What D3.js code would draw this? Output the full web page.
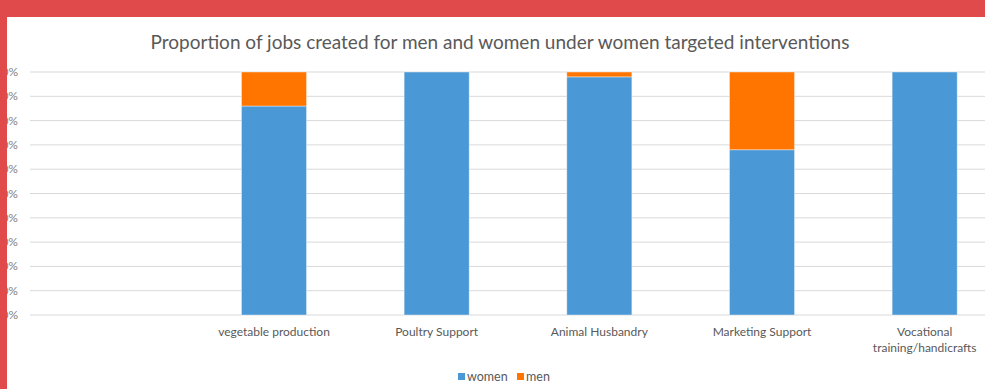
<!DOCTYPE html>
<html><head><meta charset="utf-8">
<script src="https://cdn.jsdelivr.net/npm/d3@7"></script>
<style>body{margin:0;background:#fff;overflow:hidden}svg{display:block}</style>
</head><body>
<svg id="c" width="985" height="389"></svg>
<script>
const categories = ["", "vegetable production", "Poultry Support", "Animal Husbandry", "Marketing Support", "Vocational training/handicrafts"];
const women = [null, 86, 100, 98, 68, 100];
const men = [null, 14, 0, 2, 32, 0];
const yTicks = [0,10,20,30,40,50,60,70,80,90,100];
const seriesNames = ["women","men"];
const colors = {women:"#4A98D6", men:"#FF7500"};

const svg = d3.select("#c");
const font = "Lato, 'Open Sans', sans-serif";
const x = d3.scaleBand().domain(categories).range([30, 1006]).paddingInner(0.6).paddingOuter(0.3);
const y = d3.scaleLinear().domain([0,100]).range([315, 72]);

svg.append("rect").attr("width",985).attr("height",389).attr("fill","#fff");

// gridlines
svg.append("g").selectAll("line").data(yTicks).join("line")
  .attr("x1",30).attr("x2",1006).attr("y1",d=>y(d)).attr("y2",d=>y(d))
  .attr("stroke","#d9d9d9").attr("stroke-width",1);

// y labels (partly hidden behind the red frame, as in the reference)
svg.append("g").selectAll("text").data(yTicks).join("text")
  .attr("x",18).attr("y",d=>y(d)+4).attr("text-anchor","end")
  .attr("font-family",font).attr("font-size",12).attr("fill","#7f7f7f")
  .text(d=>d+"%");

// stacked bars
const rows = categories.map((c,i)=>({cat:c, women:women[i]||0, men:men[i]||0}));
const stack = d3.stack().keys(seriesNames)(rows);
svg.append("g").selectAll("g").data(stack).join("g")
  .attr("fill",d=>colors[d.key])
  .selectAll("rect").data(d=>d.filter(p=>p[1]-p[0]>0)).join("rect")
  .attr("x",d=>x(d.data.cat)).attr("width",x.bandwidth())
  .attr("y",d=>y(d[1])).attr("height",d=>y(d[0])-y(d[1]))
  .attr("stroke","#fff").attr("stroke-opacity",0.5).attr("stroke-width",0.8);

// x labels
const xl = svg.append("g");
categories.forEach(c=>{
  if(!c) return;
  const cx = x(c)+x.bandwidth()/2;
  const lines = c==="Vocational training/handicrafts" ? ["Vocational","training/handicrafts"] : [c];
  lines.forEach((t,i)=>{
    xl.append("text").attr("x",cx).attr("y",336+i*16).attr("text-anchor","middle")
      .attr("font-family",font).attr("font-size",12).attr("fill","#595959").text(t);
  });
});

// title
svg.append("text").attr("x",500).attr("y",49).attr("text-anchor","middle")
  .attr("font-family",font).attr("font-size",19).attr("fill","#595959")
  .text("Proportion of jobs created for men and women under women targeted interventions");

// legend
const leg = svg.append("g");
const legX = [458, 517];
seriesNames.forEach((s,i)=>{
  leg.append("rect").attr("x",legX[i]).attr("y",373).attr("width",7).attr("height",7).attr("fill",colors[s]);
  leg.append("text").attr("x",legX[i]+9).attr("y",381).attr("font-family",font).attr("font-size",12.5)
    .attr("fill","#595959").text(s);
});

// red frame
svg.append("rect").attr("x",0).attr("y",0).attr("width",985).attr("height",17).attr("fill","#E04A4A");
svg.append("rect").attr("x",0).attr("y",0).attr("width",7).attr("height",389).attr("fill","#E04A4A");
</script>
</body></html>
